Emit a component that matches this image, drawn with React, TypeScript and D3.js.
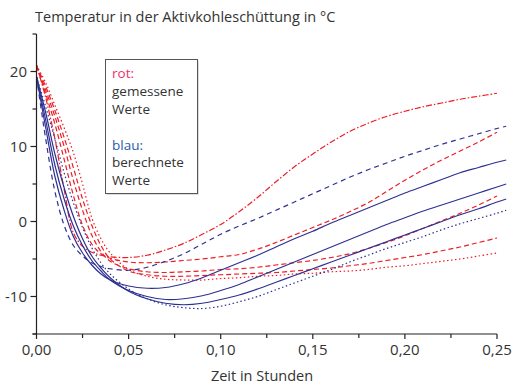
import React from 'react';
import * as d3 from 'd3';

// Zeitpunkte (Stunden) der Messreihen
const zeitRot = [0, 0.005, 0.01, 0.015, 0.02, 0.025, 0.03, 0.035, 0.04, 0.05, 0.06, 0.07, 0.08, 0.09, 0.1,
  0.11, 0.12, 0.13, 0.14, 0.15, 0.16, 0.17, 0.18, 0.19, 0.2, 0.21, 0.22, 0.23, 0.24, 0.25];
const zeitBlau = [...zeitRot, 0.255];

// rot: gemessene Werte (°C)
const rotStrichpunkt = [20.8, 16.5, 11, 4.3, -1.5, -3.3, -4.1, -4.5, -4.7, -4.8, -4.5, -3.8, -2.9, -1.7, -0.4,
  1.3, 3.2, 5.3, 7.3, 9.0, 10.6, 12.0, 13.1, 14.0, 14.7, 15.3, 15.8, 16.3, 16.7, 17.1];
const rotGestrichelt1 = [20.8, 17, 13, 8.3, 3.5, -0.5, -3.0, -4.3, -4.9, -5.4, -5.5, -5.4, -5.2, -5.0, -4.7,
  -4.4, -3.7, -2.8, -1.8, -0.8, 0.2, 1.3, 2.5, 4.0, 5.5, 6.9, 8.2, 9.4, 10.6, 11.9];
const rotGestrichelt2 = [20.8, 17.5, 14, 10, 5.5, 1.5, -1.8, -4.0, -5.3, -6.3, -6.7, -6.8, -6.7, -6.6, -6.4,
  -6.3, -6.1, -5.8, -5.5, -5.2, -4.8, -4.3, -3.6, -2.8, -1.9, -0.9, 0.1, 1.1, 2.2, 3.4];
const rotGestrichelt3 = [20.8, 18, 14.8, 11.2, 7.2, 3.0, -0.5, -3.2, -5.0, -6.6, -7.1, -7.3, -7.3, -7.2, -7.1,
  -7.0, -6.9, -6.8, -6.6, -6.4, -6.2, -5.9, -5.6, -5.2, -4.8, -4.4, -3.9, -3.4, -2.8, -2.2];
const rotPunktiert = [20.8, 18.5, 15.5, 12.5, 9.2, 5.0, 0.5, -2.3, -4.2, -6.4, -7.3, -7.7, -7.8, -7.8, -7.6,
  -7.5, -7.3, -7.2, -7.0, -6.9, -6.7, -6.6, -6.4, -6.1, -5.9, -5.6, -5.3, -5.0, -4.6, -4.2];

// blau: berechnete Werte (°C)
const blauGestrichelt = [19.3, 11, 4, -0.5, -3.2, -4.6, -5.5, -6.0, -6.3, -6.5, -6.1, -5.3, -4.3, -3.0, -1.7,
  -0.6, 0.4, 1.5, 2.6, 3.7, 4.8, 5.9, 6.9, 7.8, 8.7, 9.5, 10.3, 11.0, 11.7, 12.4, 12.7];
const blauDurchgezogen1 = [19.3, 12.5, 6, 1.5, -2, -4.2, -5.8, -7.0, -7.8, -8.6, -8.9, -8.8, -8.3, -7.5, -6.5,
  -5.5, -4.5, -3.4, -2.3, -1.3, -0.2, 0.8, 1.8, 2.8, 3.8, 4.7, 5.6, 6.5, 7.2, 7.9, 8.2];
const blauDurchgezogen2 = [19.3, 13.5, 7.5, 3, -0.6, -3.2, -5.2, -6.6, -7.8, -9.2, -10.0, -10.4, -10.3, -9.9, -9.2,
  -8.4, -7.4, -6.4, -5.4, -4.4, -3.4, -2.4, -1.4, -0.4, 0.5, 1.4, 2.2, 3.0, 3.8, 4.6, 5.0];
const blauDurchgezogen3 = [19.3, 14.5, 9, 4.5, 0.7, -2.3, -4.6, -6.2, -7.5, -9.3, -10.3, -10.9, -11.1, -10.9, -10.4,
  -9.8, -9.0, -8.1, -7.2, -6.3, -5.4, -4.5, -3.6, -2.7, -1.8, -0.9, 0.0, 0.9, 1.7, 2.6, 3.0];
const blauPunktiert = [19.3, 15.3, 11, 6.5, 2.5, -0.8, -3.5, -5.5, -7.0, -9.0, -10.3, -11.1, -11.5, -11.6, -11.3,
  -10.7, -10.0, -9.1, -8.2, -7.3, -6.4, -5.4, -4.5, -3.6, -2.8, -2.0, -1.1, -0.3, 0.4, 1.1, 1.5];

// Achsen
const xMajor = [0, 0.05, 0.1, 0.15, 0.2, 0.25];
const xMinor = [0.025, 0.075, 0.125, 0.175, 0.225];
const yMajor = [20, 10, 0, -10];
const yMinor = [25, 15, 5, -5, -15];

const ROT = '#ee1c25';
const BLAU = '#2e3192';

const series = [
  { zeit: zeitRot, werte: rotStrichpunkt, color: ROT, dash: '6,2,1.5,2' },
  { zeit: zeitRot, werte: rotGestrichelt1, color: ROT, dash: '5,3' },
  { zeit: zeitRot, werte: rotGestrichelt2, color: ROT, dash: '5,3' },
  { zeit: zeitRot, werte: rotGestrichelt3, color: ROT, dash: '5,3' },
  { zeit: zeitRot, werte: rotPunktiert, color: ROT, dash: '1.5,2.5' },
  { zeit: zeitBlau, werte: blauGestrichelt, color: BLAU, dash: '5,4' },
  { zeit: zeitBlau, werte: blauDurchgezogen1, color: BLAU, dash: null },
  { zeit: zeitBlau, werte: blauDurchgezogen2, color: BLAU, dash: null },
  { zeit: zeitBlau, werte: blauDurchgezogen3, color: BLAU, dash: null },
  { zeit: zeitBlau, werte: blauPunktiert, color: BLAU, dash: '1.5,2.5' },
];

const FONT = '"Open Sans", "Noto Sans", sans-serif';
const TEXT = '#333';

export default function App() {
  const width = 513, height = 385;

  const x = d3.scaleLinear().domain([0, 0.25]).range([36.5, 497]);
  const y = d3.scaleLinear().domain([-15, 25]).range([334, 34]);

  const line = d3.line<[number, number]>()
    .x((d) => x(d[0]))
    .y((d) => y(d[1]))
    .curve(d3.curveCatmullRom.alpha(0.5));

  const fmt = (v: number) => d3.format('.2f')(v).replace('.', ',');

  const x0 = x(0);
  const yBase = y(-15);

  return (
    <svg width={width} height={height} style={{ position: 'absolute', left: 0, top: 0, background: '#fff' }}
      fontFamily={FONT}>
      <text x={35} y={22} fontSize={14.5} fill={TEXT}>Temperatur in der Aktivkohleschüttung in °C</text>

      {/* Kurven */}
      <g fill="none">
        {series.map((s, i) => (
          <path key={i}
            d={line(s.zeit.map((t, j) => [t, s.werte[j]] as [number, number])) || ''}
            stroke={s.color}
            strokeWidth={1.2}
            strokeDasharray={s.dash || undefined} />
        ))}
      </g>

      {/* Legende */}
      <rect x={106.5} y={60.5} width={92} height={134} fill="#bbb" />
      <rect x={105.5} y={59.5} width={92} height={134} fill="#fff" stroke="#555" strokeWidth={1} />
      <g fontSize={13.5}>
        <text x={112} y={78} fill="#e8336b">rot:</text>
        <text x={112} y={96} fill={TEXT}>gemessene</text>
        <text x={112} y={114} fill={TEXT}>Werte</text>
        <text x={112} y={150} fill="#2a5caa">blau:</text>
        <text x={112} y={167} fill={TEXT}>berechnete</text>
        <text x={112} y={185} fill={TEXT}>Werte</text>
      </g>

      {/* Achsen */}
      <g stroke="#222" strokeWidth={1.2}>
        <line x1={x0} x2={x0} y1={y(25)} y2={yBase} />
        {yMajor.map((v) => <line key={'ym' + v} x1={x0 - 6} x2={x0} y1={y(v)} y2={y(v)} />)}
        {yMinor.map((v) => <line key={'yn' + v} x1={x0 - 4} x2={x0} y1={y(v)} y2={y(v)} />)}
        <line x1={x0 - 4} x2={x(0.25)} y1={yBase} y2={yBase} />
        {xMajor.map((v) => <line key={'xm' + v} x1={x(v)} x2={x(v)} y1={yBase} y2={yBase + 5} />)}
        {xMinor.map((v) => <line key={'xn' + v} x1={x(v)} x2={x(v)} y1={yBase} y2={yBase + 4} />)}
      </g>
      <g fontSize={15} fill={TEXT}>
        {yMajor.map((v) => (
          <text key={'yl' + v} x={27} y={y(v)} dy="0.38em" textAnchor="end">{v}</text>
        ))}
        {xMajor.map((v) => (
          <text key={'xl' + v} x={x(v)} y={355} textAnchor="middle">{fmt(v)}</text>
        ))}
      </g>
      <text x={262} y={381} fontSize={14.5} fill={TEXT} textAnchor="middle">Zeit in Stunden</text>
    </svg>
  );
}
